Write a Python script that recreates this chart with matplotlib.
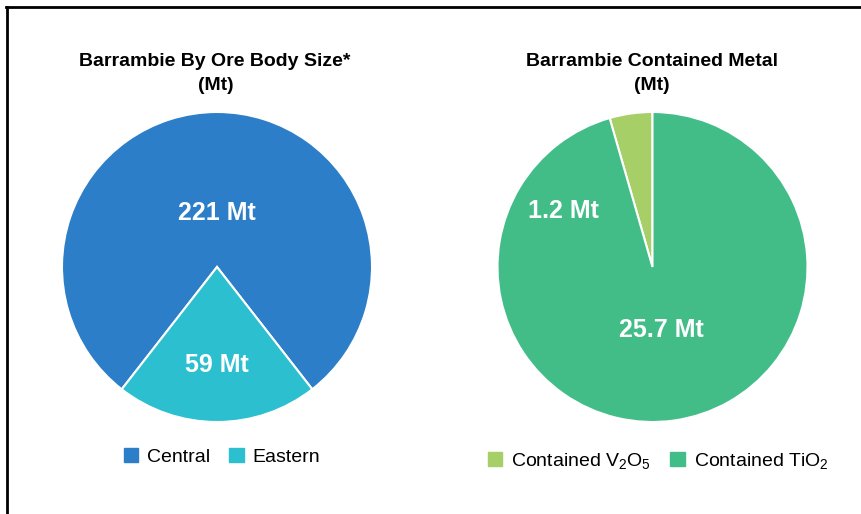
import matplotlib
matplotlib.use("Agg")
import matplotlib.pyplot as plt
from matplotlib.lines import Line2D
from matplotlib.patches import Patch
import numpy as np

plt.rcParams['font.family'] = ['Liberation Sans', 'DejaVu Sans']
plt.rcParams['mathtext.fontset'] = 'custom'
plt.rcParams['mathtext.rm'] = 'Liberation Sans'
plt.rcParams['mathtext.it'] = 'Liberation Sans'

# ---- data ----
ore_names = ['Central', 'Eastern']
ore_values = [221, 59]
ore_labels = ['221 Mt', '59 Mt']
ore_colors = ['#2B7EC7', '#2CBFCF']

metal_names = ['Contained V$_2$O$_5$', 'Contained TiO$_2$']
metal_values = [1.2, 25.7]
metal_labels = ['1.2 Mt', '25.7 Mt']
metal_colors = ['#A7CF68', '#42BD88']

W, H = 861, 514
fig = plt.figure(figsize=(W / 100, H / 100), dpi=100)
fig.patch.set_facecolor('white')


def px_axes(cx, cy, r):
    return fig.add_axes([(cx - r) / W, (H - cy - r) / H, 2 * r / W, 2 * r / H])


def draw_pie(ax, values, colors, labels, startangle, label_pos):
    wedges, _ = ax.pie(values, colors=colors, startangle=startangle, radius=1,
                       wedgeprops=dict(edgecolor='white', linewidth=1.5))
    for w, lab, (ang, dist) in zip(wedges, labels, label_pos):
        if ang is None:
            ang = (w.theta1 + w.theta2) / 2
        a = np.deg2rad(ang)
        ax.text(dist * np.cos(a), dist * np.sin(a), lab, ha='center', va='center',
                color='white', fontsize=18, fontweight='bold')
    ax.set_xlim(-1, 1)
    ax.set_ylim(-1, 1)
    ax.set_aspect('equal')
    ax.axis('off')
    return wedges


# left pie: Eastern wedge centred at the bottom
east_span = 360 * ore_values[1] / sum(ore_values)
start_left = -90 + east_span / 2
ax1 = px_axes(217, 267, 155)
w1 = draw_pie(ax1, ore_values, ore_colors, ore_labels, start_left,
              [(None, 0.35), (None, 0.63)])

# right pie: starts at 12 o'clock
ax2 = px_axes(652.5, 267, 155)
w2 = draw_pie(ax2, metal_values, metal_colors, metal_labels, 90,
              [(148, 0.68), (None, 0.41)])

# titles
title_kw = dict(ha='center', va='center', fontsize=14, fontweight='bold')
fig.text(215 / W, 1 - 62 / H, 'Barrambie By Ore Body Size*', **title_kw)
fig.text(216 / W, 1 - 85 / H, '(Mt)', **title_kw)
fig.text(652 / W, 1 - 62 / H, 'Barrambie Contained Metal', **title_kw)
fig.text(652 / W, 1 - 85 / H, '(Mt)', **title_kw)

# legends
leg_kw = dict(loc='center', frameon=False, ncol=2, fontsize=14,
              handlelength=0.75, handleheight=0.75, handletextpad=0.45,
              columnspacing=1.0, borderpad=0)
fig.legend([Patch(color=c) for c in ore_colors], ore_names,
           bbox_to_anchor=(222 / W, 1 - 457 / H), **leg_kw)
fig.legend([Patch(color=c) for c in metal_colors], metal_names,
           bbox_to_anchor=(658 / W, 1 - 461 / H), **leg_kw)

# frame lines (top and left)
fig.add_artist(Line2D([6 / W, 1], [1 - 7 / H, 1 - 7 / H], color='black', linewidth=2,
                      transform=fig.transFigure))
fig.add_artist(Line2D([7 / W, 7 / W], [0, 1 - 7 / H], color='black', linewidth=2,
                      transform=fig.transFigure))

fig.savefig('out.png', dpi=100)
